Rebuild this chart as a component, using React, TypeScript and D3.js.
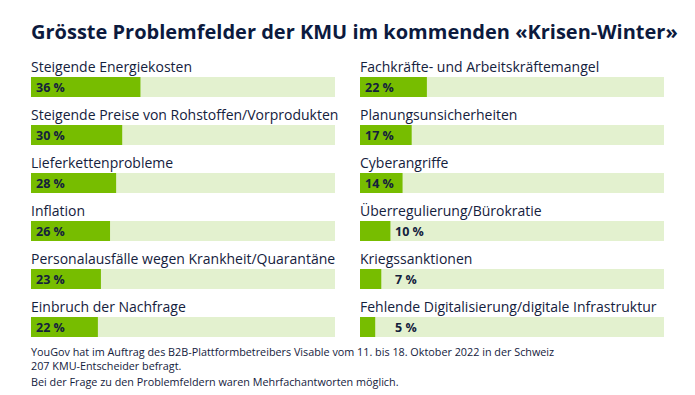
import React, { useEffect, useRef } from 'react';
import * as d3 from 'd3';

const leftLabels = [
  'Steigende Energiekosten',
  'Steigende Preise von Rohstoffen/Vorprodukten',
  'Lieferkettenprobleme',
  'Inflation',
  'Personalausfälle wegen Krankheit/Quarantäne',
  'Einbruch der Nachfrage',
];
const leftValues = [36, 30, 28, 26, 23, 22];

const rightLabels = [
  'Fachkräfte- und Arbeitskräftemangel',
  'Planungsunsicherheiten',
  'Cyberangriffe',
  'Überregulierung/Bürokratie',
  'Kriegssanktionen',
  'Fehlende Digitalisierung/digitale Infrastruktur',
];
const rightValues = [22, 17, 14, 10, 7, 5];

const title = 'Grösste Problemfelder der KMU im kommenden «Krisen-Winter»';
const notes = [
  'YouGov hat im Auftrag des B2B-Plattformbetreibers Visable vom 11. bis 18. Oktober 2022 in der Schweiz',
  '207 KMU-Entscheider befragt.',
  'Bei der Frage zu den Problemfeldern waren Mehrfachantworten möglich.',
];

const W = 695;
const H = 395;
const DARK = '#14213d';
const GREEN = '#77bd00';
const TRACK = '#e3f1cf';
const FONT = '"Open Sans", "Noto Sans", sans-serif';

export default function App() {
  const svgRef = useRef<SVGSVGElement>(null);

  useEffect(() => {
    const svg = d3.select(svgRef.current);
    svg.selectAll('*').remove();

    svg.append('rect').attr('width', W).attr('height', H).attr('fill', '#fff');

    svg.append('text')
      .attr('x', 31)
      .attr('y', 39)
      .style('font-family', FONT)
      .style('font-size', '20px')
      .style('font-weight', 'bold')
      .style('fill', '#0c1a3e')
      .text(title);

    const rowY = d3.scaleBand<number>()
      .domain(d3.range(6))
      .range([60, 348])
      .padding(0);

    const panels = [
      { labels: leftLabels, values: leftValues, x0: 31 },
      { labels: rightLabels, values: rightValues, x0: 360 },
    ];

    panels.forEach(p => {
      const x = d3.scaleLinear().domain([0, 100]).range([p.x0, p.x0 + 304]);
      const rows = svg.append('g')
        .selectAll('g')
        .data(p.values.map((v, i) => ({ v, label: p.labels[i], i })))
        .enter()
        .append('g')
        .attr('transform', d => `translate(0, ${rowY(d.i)})`);

      rows.append('text')
        .attr('x', p.x0)
        .attr('y', 12)
        .style('font-family', FONT)
        .style('font-size', '14px')
        .style('fill', DARK)
        .text(d => d.label);

      rows.append('rect')
        .attr('x', x(0))
        .attr('y', 17)
        .attr('width', x(100) - x(0))
        .attr('height', 20)
        .attr('fill', TRACK);

      rows.append('rect')
        .attr('x', x(0))
        .attr('y', 17)
        .attr('width', d => x(d.v) - x(0))
        .attr('height', 20)
        .attr('fill', GREEN);

      rows.append('text')
        .attr('x', d => (d.v >= 12 ? x(0) + 5 : x(0) + 35))
        .attr('y', 32)
        .style('font-family', FONT)
        .style('font-size', '12.5px')
        .style('font-weight', 'bold')
        .style('fill', DARK)
        .text(d => `${d.v} %`);
    });

    svg.append('g')
      .selectAll('text')
      .data(notes)
      .enter()
      .append('text')
      .attr('x', 31)
      .attr('y', (d, i) => [356, 370, 386][i])
      .style('font-family', FONT)
      .style('font-size', '10.8px')
      .style('fill', DARK)
      .text(d => d);
  }, []);

  return (
    <div style={{ position: 'fixed', left: 0, top: 0, width: W, height: H }}>
      <svg ref={svgRef} width={W} height={H}></svg>
    </div>
  );
}
